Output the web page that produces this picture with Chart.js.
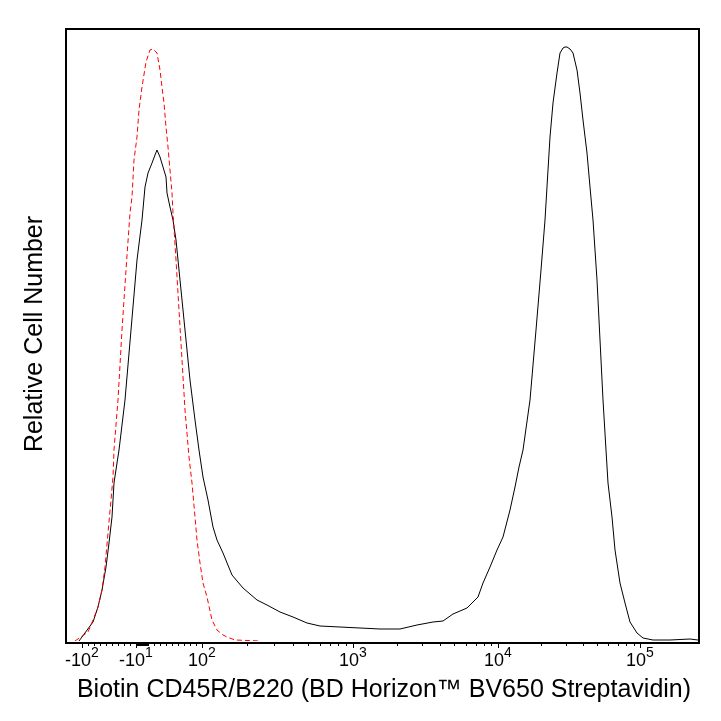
<!DOCTYPE html>
<html>
<head>
<meta charset="utf-8">
<script src="https://cdn.jsdelivr.net/npm/chart.js@4.4.1/dist/chart.umd.min.js"></script>
<style>
  html, body { margin: 0; padding: 0; background: #fff; }
  canvas { display: block; }
</style>
</head>
<body>
<canvas id="histo" width="721" height="721"></canvas>
<script>
// Histogram overlay, x in display channels (biexponential axis), y in relative counts
const stainedX = [13, 27, 32, 36, 40, 43, 46, 48, 51, 53, 59, 65, 71, 76, 79, 82, 86, 89, 91, 94, 97, 100, 101, 104, 107,
  110, 113, 116, 120, 124, 129, 133, 137, 142, 147, 151, 157, 166, 177, 191, 201, 214, 227, 241, 254, 274, 294, 314, 334,
  351, 367, 377, 387, 401, 412, 417, 424, 431, 437, 444, 449, 453, 457, 464, 470, 475, 479, 482, 484, 487, 491, 494, 497,
  499, 501, 504, 507, 511, 514, 517, 521, 524, 527, 531, 534, 537, 540, 542, 546, 549, 554, 559, 564, 571, 577, 587, 604,
  624, 632];
const stainedY = [0, 19, 34, 51, 74, 98, 124, 158, 178, 191, 241, 311, 381, 421, 454, 468, 478, 486, 491, 484, 474, 464, 448, 434, 421,
  401, 371, 341, 301, 261, 221, 191, 164, 141, 114, 101, 88, 66, 53, 41, 36, 29, 24, 18, 15, 14, 13, 12, 12,
  16, 19, 20, 27, 33, 44, 58, 74, 91, 104, 131, 154, 174, 191, 241, 311, 371, 421, 471, 504, 538, 568, 588, 593,
  594, 594, 592, 588, 571, 548, 521, 488, 454, 421, 361, 301, 241, 191, 158, 124, 91, 58, 38, 19, 8, 3, 1, 1,
  2, 1];

const controlX = [9, 22, 27, 32, 36, 39, 42, 45, 47, 48, 52, 56, 60, 64, 66, 68, 71, 73, 76, 80, 84, 87, 91, 94, 96,
  98, 100, 102, 104, 106, 107, 110, 113, 116, 119, 123, 126, 129, 131, 134, 137, 141, 146, 151, 157, 161, 169, 194];
const controlY = [0, 9, 21, 34, 51, 74, 108, 141, 164, 191, 241, 311, 371, 428, 444, 481, 504, 531, 554, 579, 591, 592, 588, 571, 554,
  538, 514, 494, 471, 448, 428, 381, 331, 281, 231, 184, 158, 124, 101, 78, 58, 44, 21, 11, 6, 4, 1, 0];

// axis ticks (fluorescence values) and labels
const majorTickValues = [-100, -10, 100, 1000, 10000, 100000];
const tickLabels = [
  { value: -100, base: '-10', exp: '2' },
  { value: -10, base: '-10', exp: '1' },
  { value: 100, base: '10', exp: '2' },
  { value: 1000, base: '10', exp: '3' },
  { value: 10000, base: '10', exp: '4' },
  { value: 100000, base: '10', exp: '5' }
];
const decadeValues = [100, 1000, 10000, 100000];
const decadeChannels = [136, 287, 432, 574];
const zeroChannel = 76;
const linearSlope = 0.6; // channels per unit inside +-100

const xTitle = 'Biotin CD45R/B220 (BD Horizon\u2122 BV650 Streptavidin)';
const yTitle = 'Relative Cell Number';

// value -> display channel for the tick marks
function toChannel(v) {
  if (v <= 100) return zeroChannel + v * linearSlope;
  for (let i = 0; i < decadeValues.length - 1; i++) {
    if (v <= decadeValues[i + 1]) {
      const f = Math.log10(v / decadeValues[i]);
      return decadeChannels[i] + f * (decadeChannels[i + 1] - decadeChannels[i]);
    }
  }
  return decadeChannels[decadeChannels.length - 1];
}

const minorTickValues = [];
for (let v = -90; v <= 90; v += 10) if (v !== -10 && v !== 0) minorTickValues.push(v);
for (let v = -9; v <= 9; v++) minorTickValues.push(v);
decadeValues.slice(0, 3).forEach(function (d) {
  for (let k = 2; k <= 9; k++) minorTickValues.push(k * d);
});

const FONT = "'Liberation Sans', Arial, sans-serif";

const frameAndAxes = {
  id: 'frameAndAxes',
  afterDraw(chart) {
    const ctx = chart.ctx;
    const a = chart.chartArea;
    const x = chart.scales.x;
    ctx.save();

    // frame
    ctx.strokeStyle = '#000';
    ctx.lineWidth = 2;
    ctx.strokeRect(a.left, a.top + 1, a.right - a.left + 1, a.bottom - a.top + 1);

    // tick marks
    ctx.lineWidth = 1;
    ctx.beginPath();
    minorTickValues.forEach(function (v) {
      const px = Math.round(x.getPixelForValue(toChannel(v))) + 0.5;
      ctx.moveTo(px, a.bottom + 2);
      ctx.lineTo(px, a.bottom + 5);
    });
    majorTickValues.forEach(function (v) {
      const px = Math.round(x.getPixelForValue(toChannel(v))) + 0.5;
      ctx.moveTo(px, a.bottom + 2);
      ctx.lineTo(px, a.bottom + 7);
    });
    ctx.stroke();

    // tick labels: base + raised exponent
    ctx.fillStyle = '#000';
    ctx.textBaseline = 'alphabetic';
    ctx.textAlign = 'left';
    tickLabels.forEach(function (t) {
      const px = x.getPixelForValue(toChannel(t.value));
      ctx.font = '18px ' + FONT;
      const wb = ctx.measureText(t.base).width;
      ctx.font = '14px ' + FONT;
      const we = ctx.measureText(t.exp).width;
      const left = px - (wb + we) / 2;
      ctx.font = '18px ' + FONT;
      ctx.fillText(t.base, left, a.bottom + 25);
      ctx.font = '14px ' + FONT;
      ctx.fillText(t.exp, left + wb, a.bottom + 16);
    });

    // axis titles
    ctx.font = '25px ' + FONT;
    ctx.textAlign = 'center';
    ctx.fillText(xTitle, 384, 697);
    ctx.translate(42, 334);
    ctx.rotate(-Math.PI / 2);
    ctx.fillText(yTitle, 0, 0);
    ctx.restore();
  }
};

new Chart(document.getElementById('histo').getContext('2d'), {
  type: 'line',
  data: {
    datasets: [
      {
        label: 'Isotype control',
        data: controlX.map(function (v, i) { return { x: v, y: controlY[i] }; }),
        borderColor: '#ff0000',
        borderWidth: 1,
        borderDash: [5, 3],
        pointRadius: 0,
        tension: 0,
        fill: false
      },
      {
        label: 'CD45R/B220',
        data: stainedX.map(function (v, i) { return { x: v, y: stainedY[i] }; }),
        borderColor: '#000000',
        borderWidth: 1,
        pointRadius: 0,
        tension: 0,
        fill: false
      }
    ]
  },
  options: {
    responsive: false,
    animation: false,
    layout: { padding: { left: 66, top: 28, right: 23, bottom: 80 } },
    plugins: {
      legend: { display: false },
      tooltip: { enabled: false }
    },
    scales: {
      x: { type: 'linear', min: 0, max: 632, display: false },
      y: { type: 'linear', min: 0, max: 613, display: false }
    }
  },
  plugins: [frameAndAxes]
});
</script>
</body>
</html>
